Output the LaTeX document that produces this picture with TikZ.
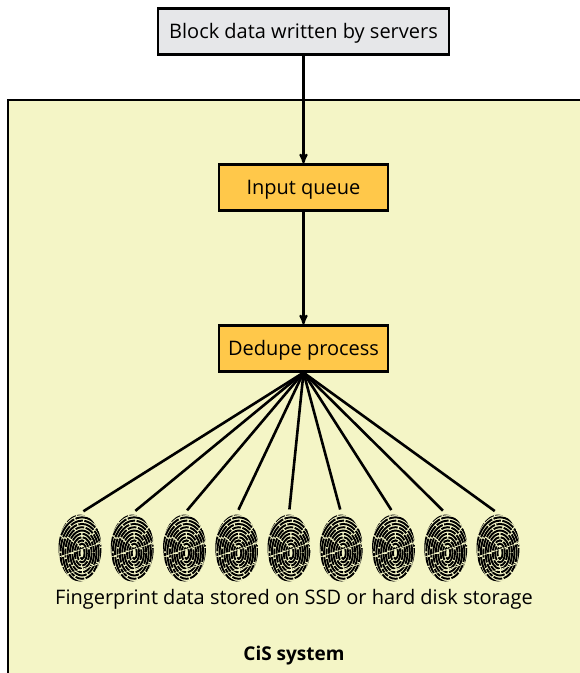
\documentclass[tikz,border=0pt]{standalone}
\usepackage{fontspec}
\setmainfont{Open Sans}
\usetikzlibrary{shapes.geometric}
\usetikzlibrary{arrows}

\definecolor{panelfill}{HTML}{F4F5C6}
\definecolor{blockfill}{HTML}{E6E7E9}
\definecolor{stagefill}{HTML}{FFC84A}

% ridges of one fingerprint, drawn round the middle of its node
\newcommand{\fpridges}{%
	\begin{scope}[shift={(path picture bounding box.center)},rotate=-14,line width=1.9pt]
		\foreach \r/\d in {0/9,3.3/14,6.6/7,9.9/19,13.2/11,16.5/23,19.8/9,23.1/17,26.4/13,29.7/21,33/11,36.3/15}
			\draw[dash pattern=on \d pt off 1.5pt]
				(2,5) ellipse ({2.5+\r*0.72} and {6+\r});
		% cuts across the ridges
		\foreach \s in {-12,8}
			\draw[panelfill,line width=0.7pt] (-24,{22+\s}) -- (24,{6+\s});
	\end{scope}}

\begin{document}
\begin{tikzpicture}[x=1pt,y=-1pt,->,>=stealth',line width=2.2pt,node distance=156pt,
		every node/.style={font=\fontsize{20}{24}\selectfont},
		main node/.style={rectangle,draw,minimum width=169pt,minimum height=46pt,inner sep=0pt,
			text height=18pt,text depth=5pt,fill=stagefill},
		fp node/.style={ellipse,minimum width=43pt,minimum height=67pt,inner sep=0pt,
			path picture={\fpridges}}]
		
		\useasboundingbox (0,0) rectangle (580,673);
		\path[draw,fill=panelfill,-] (8,100) rectangle (600,700);
		
		\node[main node, fill=blockfill, minimum width=291pt] (block) at (303.5,31.5) {Block data written by servers};
		\node[main node] (input) [below of=block] {Input queue};
		\node[main node, node distance=161pt] (dedupe) [below of=input] {Dedupe process};
		
		\node[fp node] (fp1) at (80,548) {};
		\foreach \i [remember=\i as \j (initially 1)] in {2,...,9}
			\node[fp node, node distance=52.25pt] (fp\i) [right of=fp\j] {};
		
		\node (caption) at (294,599) {Fingerprint data stored on SSD or hard disk storage};
		\node[font=\fontsize{19}{23}\selectfont\bfseries] (system) at (294,656) {CiS system};
		
		\path
		(block) edge (input)
		(input) edge (dedupe);
		\foreach \i in {1,...,9}
			\path (dedupe.south) edge[-,line width=2.6pt,shorten >=4pt,shorten <=-1pt] (fp\i.north);
		\end{tikzpicture}
\end{document}
